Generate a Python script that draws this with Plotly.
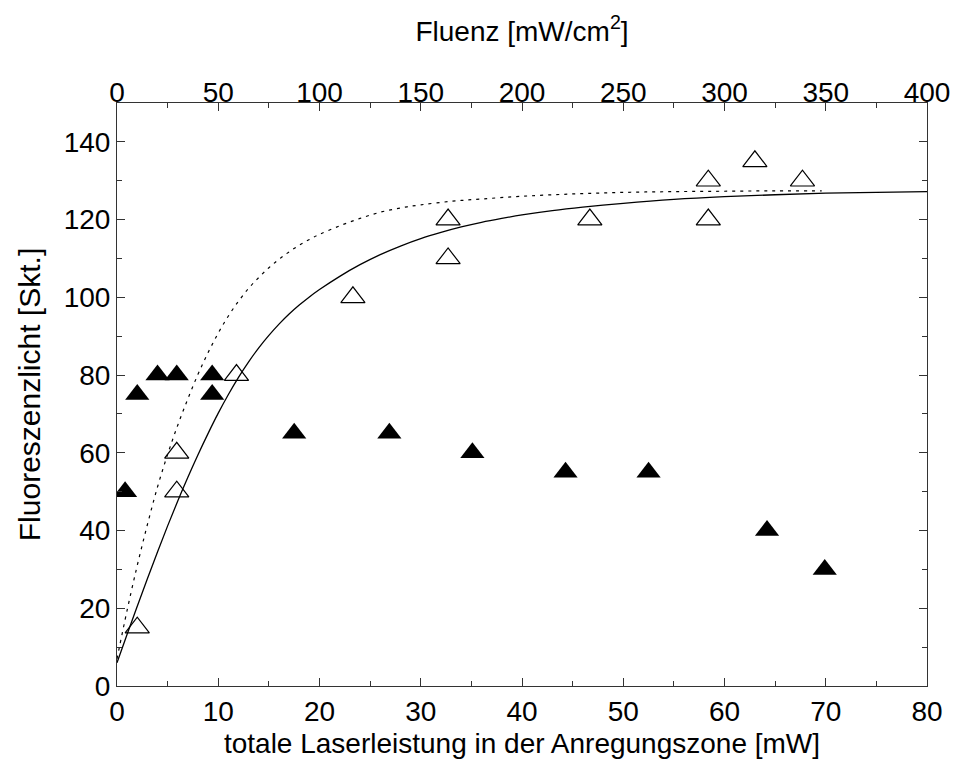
import plotly.graph_objects as go

# filled triangles
filled_x = [0.8, 2.0, 4.0, 5.9, 9.4, 9.4, 17.5, 26.9, 35.1, 44.3, 52.5, 64.2, 69.9]
filled_y = [50, 75, 80, 80, 80, 75, 65, 65, 60, 55, 55, 40, 30]

# open triangles
open_x = [2.0, 5.9, 5.9, 11.8, 23.3, 32.7, 32.7, 46.7, 58.4, 58.4, 63.0, 67.7]
open_y = [15, 60, 50, 80, 100, 120, 110, 120, 130, 120, 135, 130]

# solid curve
solid_x = [0, 1, 2, 3, 4, 5, 6, 7, 8, 9, 10, 11, 12, 13, 14, 15, 16, 17, 18, 19, 20,
           22, 24, 26, 28, 30, 32, 34, 36, 38, 40, 43, 46, 50, 55, 60, 65, 70, 75, 80]
solid_y = [6, 13.3, 20.5, 27.6, 34.5, 41.2, 47.6, 53.7, 59.5, 65, 70.2, 75, 79.4, 83.4, 87, 90.2, 93.1, 95.7, 98, 100.1, 102,
           105.4, 108.4, 111, 113.2, 115.1, 116.7, 118.1, 119.3, 120.3, 121.2, 122.3, 123.2, 124.2, 125.2, 125.9, 126.4, 126.8, 127, 127.2]

# dotted curve
dot_x = [0, 1, 2, 3, 4, 5, 6, 7, 8, 9, 10, 11, 12, 13, 14, 15, 16, 17, 18, 19, 20,
         22, 24, 26, 28, 30, 33, 36, 40, 45, 50, 55, 60, 65, 69.6]
dot_y = [7, 19.5, 31, 41.5, 51.2, 59.6, 67.1, 73.9, 80.2, 85.8, 90.8, 95.2, 99, 102.3, 105.1, 107.6, 109.8, 111.7, 113.4, 114.9, 116.2,
         118.4, 120.3, 121.9, 123, 123.8, 124.7, 125.3, 126, 126.6, 127, 127.2, 127.3, 127.4, 127.4]

x_ticks = [0, 10, 20, 30, 40, 50, 60, 70, 80]
top_ticks = [0, 50, 100, 150, 200, 250, 300, 350, 400]
y_ticks = [0, 20, 40, 60, 80, 100, 120, 140]

font_fam = "Liberation Sans, Arial, sans-serif"
axcol = "#333333"

fig = go.Figure()
fig.add_trace(go.Scatter(x=dot_x, y=dot_y, mode="lines", line=dict(color="black", width=1.2, dash="3px,5px", shape="spline", smoothing=1.0), showlegend=False))
fig.add_trace(go.Scatter(x=solid_x, y=solid_y, mode="lines", line=dict(color="black", width=1.3, shape="spline", smoothing=1.0), showlegend=False))
fig.add_trace(go.Scatter(x=filled_x, y=filled_y, mode="markers", marker=dict(symbol="triangle-up", size=21, color="black", line=dict(width=0)), showlegend=False))
fig.add_trace(go.Scatter(x=open_x, y=open_y, mode="markers", marker=dict(symbol="triangle-up-open", size=21, color="black", line=dict(width=1.2, color="black")), showlegend=False))
# invisible trace to activate top axis
fig.add_trace(go.Scatter(x=[0, 400], y=[None, None], xaxis="x2", mode="markers", showlegend=False, hoverinfo="skip"))

fig.update_layout(
    width=962, height=768,
    margin=dict(l=117, r=29, t=103, b=82),
    paper_bgcolor="white", plot_bgcolor="white",
    xaxis=dict(range=[0, 80], tickvals=x_ticks, ticks="inside", ticklen=8, tickcolor=axcol,
               minor=dict(dtick=5, ticks="inside", ticklen=5, tickcolor=axcol),
               showline=True, linecolor=axcol, linewidth=1, mirror=True, showgrid=False, zeroline=False,
               tickfont=dict(family=font_fam, size=28, color="black"),
               title=dict(text="totale Laserleistung in der Anregungszone [mW]", font=dict(family=font_fam, size=28, color="black"), standoff=7)),
    xaxis2=dict(range=[0, 400], overlaying="x", side="top", tickvals=top_ticks, ticks="inside", ticklen=8, tickcolor=axcol,
                minor=dict(dtick=25, ticks="inside", ticklen=5, tickcolor=axcol),
                showgrid=False, zeroline=False, showline=False, ticklabelstandoff=-6,
                tickfont=dict(family=font_fam, size=28, color="black"),
                title=dict(text="Fluenz [mW/cm<sup>2</sup>]", font=dict(family=font_fam, size=28, color="black"), standoff=27)),
    yaxis=dict(range=[0, 150], tickvals=y_ticks, ticks="inside", ticklen=8, tickcolor=axcol,
               minor=dict(dtick=10, ticks="inside", ticklen=5, tickcolor=axcol),
               showline=True, linecolor=axcol, linewidth=1, mirror="ticks", showgrid=False, zeroline=False,
               tickfont=dict(family=font_fam, size=28, color="black"),
               title=dict(text="Fluoreszenzlicht [Skt.]", font=dict(family=font_fam, size=30, color="black"), standoff=14)),
)

fig.write_html("out.html")
